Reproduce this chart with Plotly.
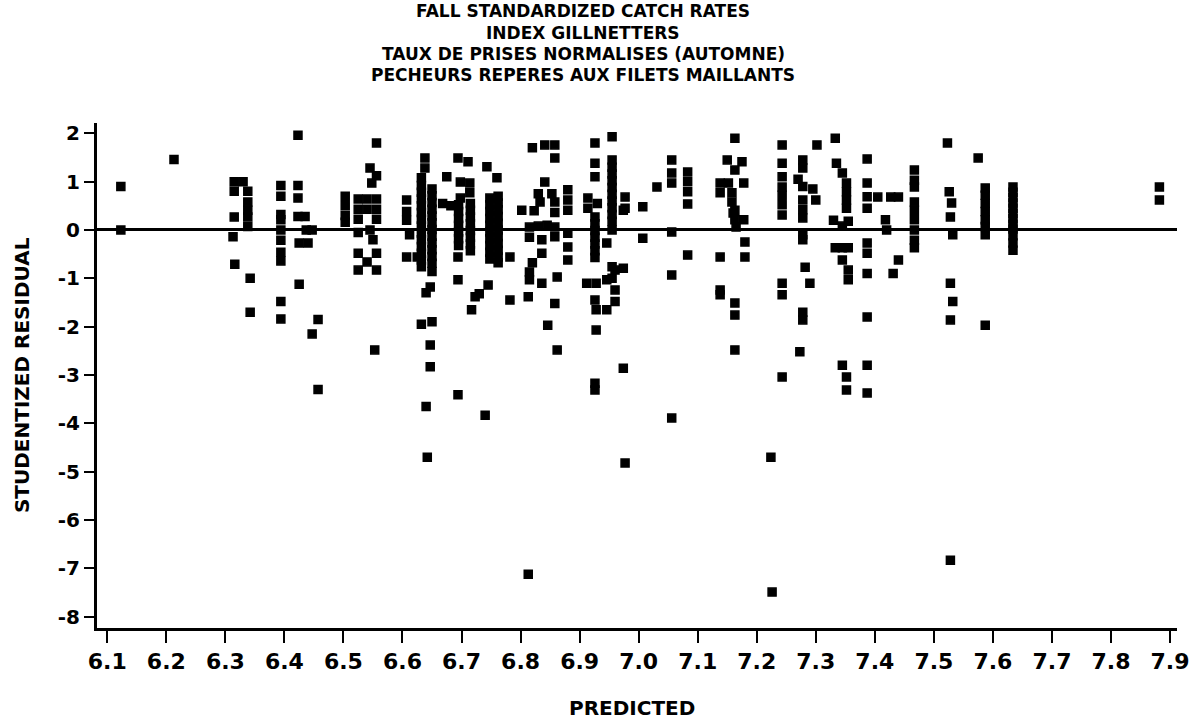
import plotly.graph_objects as go

# ---------------- data ----------------
predicted = [
    6.123, 6.123,
    6.213,
    6.315, 6.330, 6.315, 6.338, 6.338, 6.338, 6.315, 6.338, 6.338, 6.313, 6.316, 6.342, 6.342,
    6.394, 6.394, 6.394, 6.394, 6.394, 6.394, 6.394, 6.394, 6.394, 6.394,
    6.423, 6.423, 6.423, 6.423, 6.435, 6.437, 6.447, 6.425, 6.440, 6.425, 6.457, 6.447, 6.457,
    6.503, 6.503, 6.503, 6.503,
    6.525, 6.525, 6.525, 6.525, 6.540, 6.556, 6.540, 6.556, 6.556, 6.545, 6.550, 6.525, 6.556,
    6.540, 6.525, 6.556, 6.545, 6.556, 6.548, 6.556, 6.553,
    6.607, 6.607, 6.607, 6.612, 6.607, 6.625,
    6.638, 6.638, 6.632,
    6.632, 6.632, 6.632, 6.632, 6.632, 6.632, 6.632, 6.632, 6.632, 6.632, 6.632, 6.632, 6.632,
    6.650, 6.650, 6.650, 6.650, 6.650, 6.650, 6.650, 6.650, 6.650, 6.650, 6.650, 6.650, 6.650,
    6.668, 6.682, 6.647, 6.640, 6.632, 6.650, 6.647, 6.647, 6.640, 6.642,
    6.675, 6.694, 6.711, 6.698, 6.714, 6.698, 6.714,
    6.695, 6.695, 6.695, 6.695, 6.695, 6.695, 6.695,
    6.715, 6.715, 6.715, 6.715, 6.715, 6.715, 6.715, 6.715,
    6.694, 6.694, 6.745, 6.730, 6.717, 6.694,
    6.743, 6.760,
    6.748, 6.748, 6.748, 6.748, 6.748, 6.748, 6.748, 6.748, 6.748, 6.748,
    6.762, 6.762, 6.762, 6.762, 6.762, 6.762, 6.762, 6.762, 6.762, 6.762, 6.762,
    6.740, 6.723,
    6.782, 6.782, 6.802, 6.813,
    6.820, 6.841, 6.858, 6.858, 6.841, 6.830, 6.853, 6.833, 6.858, 6.823, 6.858, 6.815, 6.830,
    6.845, 6.858, 6.815, 6.858, 6.836, 6.836, 6.820, 6.815, 6.815, 6.836, 6.862, 6.858, 6.846, 6.862,
    6.880, 6.880, 6.880, 6.880, 6.880, 6.880,
    6.926, 6.926, 6.926, 6.914, 6.930, 6.914,
    6.926, 6.926, 6.926, 6.926, 6.926, 6.926, 6.926,
    6.912, 6.928, 6.926, 6.928, 6.928, 6.926, 6.926,
    6.955, 6.955, 6.955, 6.955, 6.955, 6.955, 6.955, 6.955, 6.955, 6.955, 6.955,
    6.977, 6.977, 6.974, 6.955, 6.946, 6.955, 6.960, 6.974, 6.946, 6.960, 6.960, 6.946, 6.955,
    6.974, 6.977,
    7.007, 7.007, 7.031,
    7.056, 7.056, 7.056, 7.056, 7.056, 7.056,
    7.083, 7.083, 7.083, 7.083, 7.083,
    7.138, 7.138, 7.163, 7.150, 7.175, 7.163, 7.152, 7.178, 7.158, 7.158, 7.163, 7.178, 7.163,
    7.165, 7.160, 7.180, 7.180, 7.138, 7.138, 7.138, 7.163, 7.163, 7.163,
    7.243, 7.243, 7.243, 7.243, 7.243, 7.243, 7.243,
    7.278, 7.278, 7.302, 7.333, 7.270, 7.278, 7.295, 7.300, 7.278, 7.278, 7.278, 7.278, 7.278,
    7.282, 7.290, 7.243, 7.243, 7.278, 7.278, 7.273, 7.243, 7.224, 7.226,
    7.335, 7.345, 7.352, 7.352, 7.352, 7.352, 7.330, 7.345, 7.355, 7.333, 7.345, 7.355, 7.345,
    7.355, 7.355, 7.345, 7.352, 7.352,
    7.387, 7.387, 7.387, 7.387, 7.405, 7.427, 7.440, 7.418, 7.420, 7.387, 7.387, 7.387, 7.431,
    7.440, 7.387, 7.387, 7.387,
    7.467, 7.467, 7.467, 7.467, 7.467, 7.467, 7.467, 7.467, 7.467,
    7.523, 7.526, 7.530, 7.528, 7.532, 7.528, 7.532, 7.528, 7.528,
    7.575, 7.587, 7.587, 7.587, 7.587, 7.587, 7.587, 7.587, 7.587,
    7.634, 7.634, 7.634, 7.634, 7.634, 7.634, 7.634, 7.634, 7.634, 7.634, 7.634, 7.634,
    7.882, 7.882,
    6.813,
]

residual = [
    0.90, 0.00,
    1.46,
    1.00, 1.00, 0.80, 0.80, 0.58, 0.41, 0.27, 0.27, 0.07, -0.14, -0.71, -1.00, -1.70,
    0.92, 0.70, 0.32, 0.21, 0.00, -0.21, -0.46, -0.64, -1.48, -1.84,
    1.96, 0.92, 0.66, 0.28, 0.28, 0.00, 0.00, -0.27, -0.27, -1.12, -1.85, -2.15, -3.30,
    0.70, 0.50, 0.30, 0.16,
    0.64, 0.43, 0.22, -0.05, 0.64, 0.64, 0.43, 0.43, 0.22, 0.00, -0.20, -0.48, -0.48,
    -0.66, -0.83, -0.83, 1.28, 1.12, 0.97, 1.80, -2.48,
    0.62, 0.38, 0.20, -0.10, -0.56, -0.56,
    1.49, 1.28, 1.08,
    0.92, 0.78, 0.64, 0.50, 0.36, 0.22, 0.08, -0.06, -0.20, -0.34, -0.48, -0.62, -0.76,
    0.85, 0.71, 0.57, 0.43, 0.29, 0.15, 0.01, -0.13, -0.27, -0.41, -0.55, -0.69, -0.86,
    0.55, 0.50, -1.18, -1.30, -1.95, -1.90, -2.38, -2.83, -3.65, -4.70,
    1.10, 1.49, 1.41, 0.99, 0.97, 0.66, 0.77,
    0.52, 0.38, 0.24, 0.10, -0.04, -0.18, -0.32,
    0.55, 0.41, 0.27, 0.13, -0.01, -0.15, -0.29, -0.43,
    -0.56, -1.03, -1.14, -1.32, -1.65, -3.41,
    1.31, 1.08,
    0.66, 0.52, 0.38, 0.24, 0.10, -0.04, -0.18, -0.32, -0.46, -0.60,
    0.70, 0.56, 0.42, 0.28, 0.14, 0.00, -0.14, -0.28, -0.42, -0.56, -0.68,
    -3.83, -1.38,
    -0.56, -1.45, 0.41, -1.38,
    1.70, 1.76, 1.76, 1.49, 0.99, 0.75, 0.75, 0.58, 0.58, 0.40, 0.36, 0.06, 0.08,
    0.10, 0.06, -0.15, -0.14, -0.20, -0.48, -0.68, -0.87, -1.03, -1.10, -0.97, -1.52, -1.97, -2.48,
    0.83, 0.62, 0.41, -0.07, -0.35, -0.62,
    1.80, 1.38, 1.10, 0.66, 0.55, 0.45,
    0.27, 0.13, -0.01, -0.15, -0.29, -0.43, -0.57,
    -1.10, -1.10, -1.45, -1.65, -2.07, -3.17, -3.31,
    1.93, 1.45, 1.30, 1.16, 1.02, 0.88, 0.74, 0.60, 0.46, 0.32, 0.18,
    0.68, 0.45, 0.41, 0.00, -0.27, -0.76, -0.83, -0.79, -1.03, -1.24, -1.48, -1.65, -1.00,
    -2.86, -4.82,
    0.48, -0.17, 0.89,
    1.45, 1.18, 0.97, -0.04, -0.93, -3.89,
    1.20, 1.00, 0.79, 0.54, -0.52,
    0.97, 0.77, 1.90, 1.45, 1.41, 1.24, 0.97, 0.97, 0.77, 0.58, 0.41, 0.21, 0.21,
    0.06, 0.35, -0.25, -0.56, -0.56, -1.24, -1.34, -1.51, -1.76, -2.48,
    1.76, 1.38, 1.10, 0.89, 0.72, 0.52, 0.31,
    1.45, 1.28, 1.76, 1.90, 1.05, 0.90, 0.85, 0.62, 0.62, 0.42, 0.25, -0.10, -0.20,
    -0.77, -1.10, -1.10, -1.34, -1.70, -1.86, -2.52, -3.04, -4.70, -7.49,
    1.38, 1.18, 0.97, 0.79, 0.62, 0.45, 0.20, 0.08, 0.18, -0.37, -0.37, -0.37, -0.62,
    -0.83, -1.03, -2.80, -3.04, -3.31,
    1.47, 0.97, 0.69, 0.45, 0.68, 0.68, 0.68, 0.21, 0.00, -0.27, -0.48, -0.90, -0.90,
    -0.62, -1.80, -2.80, -3.37,
    1.24, 1.03, 0.89, 0.58, 0.41, 0.21, 0.00, -0.21, -0.37,
    1.80, 0.79, 0.56, 0.27, -0.10, -1.10, -1.48, -1.86, -6.83,
    1.49, 0.87, 0.72, 0.55, 0.38, 0.21, 0.07, -0.10, -1.97,
    0.89, 0.78, 0.67, 0.56, 0.45, 0.34, 0.23, 0.12, 0.02, -0.12, -0.27, -0.42,
    0.89, 0.62,
    -7.12,
]

x_tick_vals = [6.1, 6.2, 6.3, 6.4, 6.5, 6.6, 6.7, 6.8, 6.9, 7.0,
               7.1, 7.2, 7.3, 7.4, 7.5, 7.6, 7.7, 7.8, 7.9]
x_tick_text = ["6.1", "6.2", "6.3", "6.4", "6.5", "6.6", "6.7", "6.8", "6.9", "7.0",
               "7.1", "7.2", "7.3", "7.4", "7.5", "7.6", "7.7", "7.8", "7.9"]
y_tick_vals = [2, 1, 0, -1, -2, -3, -4, -5, -6, -7, -8]
y_tick_text = ["2", "1", "0", "-1", "-2", "-3", "-4", "-5", "-6", "-7", "-8"]

title_lines = [
    "FALL STANDARDIZED CATCH RATES",
    "INDEX GILLNETTERS",
    "TAUX DE PRISES NORMALISES (AUTOMNE)",
    "PECHEURS REPERES AUX FILETS MAILLANTS",
]
x_title = "PREDICTED"
y_title = "STUDENTIZED RESIDUAL"

# ---------------- figure ----------------
FONT = "DejaVu Sans, sans-serif"

fig = go.Figure()
fig.add_trace(go.Scatter(
    x=predicted, y=residual, mode="markers",
    marker=dict(symbol="square", size=8, color="black",
                line=dict(color="black", width=1.5)),
    hoverinfo="x+y", showlegend=False,
))

fig.update_layout(
    width=1203, height=723,
    margin=dict(l=97, r=26, t=123, b=95),
    paper_bgcolor="white", plot_bgcolor="white",
    font=dict(family=FONT, color="black"),
    xaxis=dict(
        range=[6.0826, 7.9118],
        showline=True, linewidth=3, linecolor="black",
        ticks="outside", ticklen=12, tickwidth=2, tickcolor="black",
        tickvals=x_tick_vals, ticktext=x_tick_text,
        tickfont=dict(family=FONT, size=22, color="black", weight="bold"),
        showgrid=False, zeroline=False,
    ),
    yaxis=dict(
        range=[-8.233, 2.213],
        showline=True, linewidth=3, linecolor="black",
        ticks="outside", ticklen=10, tickwidth=2, tickcolor="black",
        tickvals=y_tick_vals, ticktext=y_tick_text,
        tickfont=dict(family=FONT, size=20, color="black", weight="bold"),
        showgrid=False,
        zeroline=True, zerolinecolor="black", zerolinewidth=3,
    ),
)

title_y = [1.2208, 1.1792, 1.1376, 1.0960]
for line, ty in zip(title_lines, title_y):
    fig.add_annotation(
        text=line, xref="paper", yref="paper", x=0.45, y=ty,
        xanchor="center", yanchor="middle", showarrow=False,
        font=dict(family=FONT, size=17, color="black", weight="bold"),
    )

fig.add_annotation(
    text=x_title, xref="paper", yref="paper", x=0.495, y=-0.1584,
    xanchor="center", yanchor="middle", showarrow=False,
    font=dict(family=FONT, size=20, color="black", weight="bold"),
)
fig.add_annotation(
    text=y_title, xref="paper", yref="paper", x=-0.0694, y=0.501,
    xanchor="center", yanchor="middle", showarrow=False, textangle=-90,
    font=dict(family=FONT, size=20, color="black", weight="bold"),
)

fig.write_html("out.html")
